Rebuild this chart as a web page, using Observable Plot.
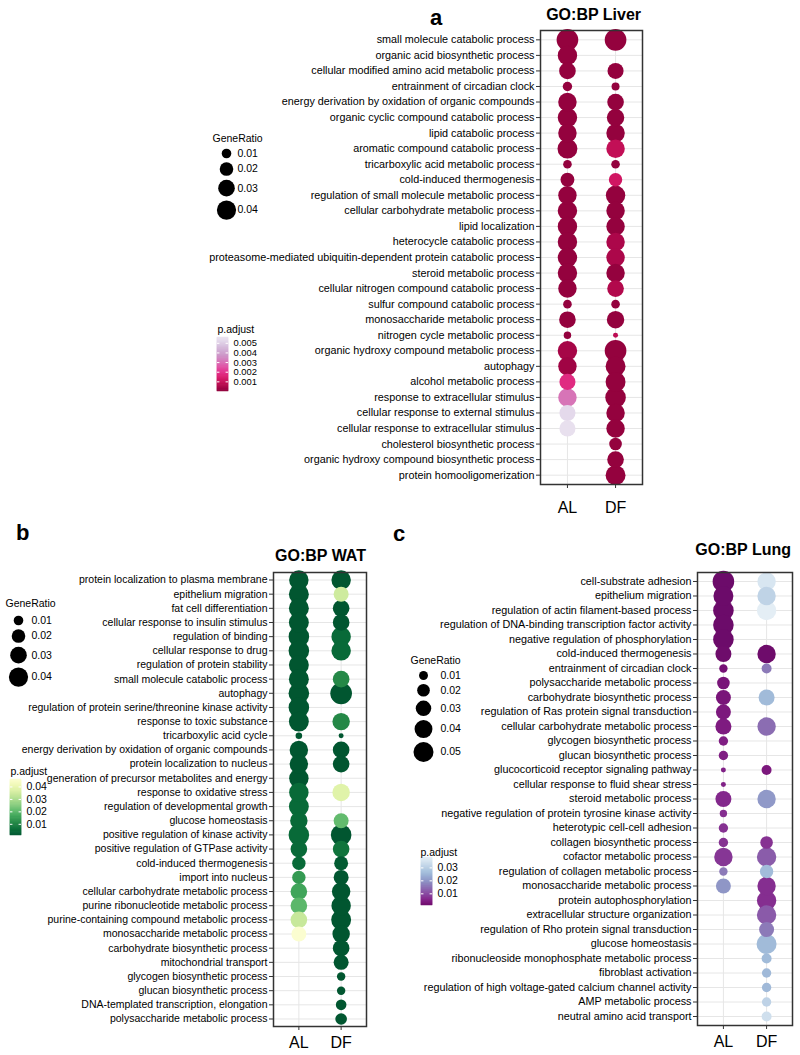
<!DOCTYPE html>
<html><head><meta charset="utf-8">
<script src="https://cdn.jsdelivr.net/npm/d3@7"></script>
<script src="https://cdn.jsdelivr.net/npm/@observablehq/plot@0.6"></script>
<style>
body{margin:0;background:#fff;}
#root{position:relative;width:800px;height:1055px;overflow:hidden;font-family:"Liberation Sans",Arial,Helvetica,sans-serif;}
</style></head><body><div id="root"></div>
<script>
const FONT = '"Liberation Sans", Arial, Helvetica, sans-serif';
const groups = ["AL", "DF"];

// ---------- Panel a: GO:BP Liver ----------
const termsLiver = ["small molecule catabolic process","organic acid biosynthetic process","cellular modified amino acid metabolic process","entrainment of circadian clock","energy derivation by oxidation of organic compounds","organic cyclic compound catabolic process","lipid catabolic process","aromatic compound catabolic process","tricarboxylic acid metabolic process","cold-induced thermogenesis","regulation of small molecule metabolic process","cellular carbohydrate metabolic process","lipid localization","heterocycle catabolic process","proteasome-mediated ubiquitin-dependent protein catabolic process","steroid metabolic process","cellular nitrogen compound catabolic process","sulfur compound catabolic process","monosaccharide metabolic process","nitrogen cycle metabolic process","organic hydroxy compound metabolic process","autophagy","alcohol metabolic process","response to extracellular stimulus","cellular response to external stimulus","cellular response to extracellular stimulus","cholesterol biosynthetic process","organic hydroxy compound biosynthetic process","protein homooligomerization"];
const liverRatioAL = [0.051,0.041,0.030,0.0096,0.037,0.041,0.037,0.043,0.008,0.021,0.037,0.041,0.041,0.041,0.041,0.041,0.037,0.008,0.030,0.006,0.041,0.037,0.028,0.037,0.028,0.028,null,null,null];
const liverRatioDF = [0.051,null,0.028,0.0069,0.030,0.033,0.037,0.037,0.008,0.0195,0.041,0.037,0.037,0.037,0.037,0.037,0.030,0.008,0.033,0.0027,0.051,0.043,0.043,0.046,0.037,0.037,0.0172,0.030,0.043];
const liverPAL = [0.0001,0.0001,0.0001,0.0001,0.0001,0.0001,0.0001,0.0001,0.0001,0.0001,0.0001,0.0001,0.0001,0.0001,0.0001,0.0001,0.0001,0.0001,0.0001,0.0001,0.0004,0.0003,0.0018,0.0031,0.0053,0.0055,null,null,null];
const liverPDF = [0.0001,null,0.0001,0.0001,0.0001,0.0001,0.0001,0.0009,0.0001,0.0012,0.0001,0.0001,0.0001,0.0005,0.0005,0.0001,0.0006,0.0001,0.0001,0.0008,0.0001,0.0001,0.0001,0.0001,0.0001,0.0001,0.0001,0.0001,0.0001];
const liverRatioBreaks = [0.01,0.02,0.03,0.04];
const liverPBreaks = [0.001,0.002,0.003,0.004,0.005];

// ---------- Panel b: GO:BP WAT ----------
const termsWAT = ["protein localization to plasma membrane","epithelium migration","fat cell differentiation","cellular response to insulin stimulus","regulation of binding","cellular response to drug","regulation of protein stability","small molecule catabolic process","autophagy","regulation of protein serine/threonine kinase activity","response to toxic substance","tricarboxylic acid cycle","energy derivation by oxidation of organic compounds","protein localization to nucleus","generation of precursor metabolites and energy","response to oxidative stress","regulation of developmental growth","glucose homeostasis","positive regulation of kinase activity","positive regulation of GTPase activity","cold-induced thermogenesis","import into nucleus","cellular carbohydrate metabolic process","purine ribonucleotide metabolic process","purine-containing compound metabolic process","monosaccharide metabolic process","carbohydrate biosynthetic process","mitochondrial transport","glycogen biosynthetic process","glucan biosynthetic process","DNA-templated transcription, elongation","polysaccharide metabolic process"];
const watRatioAL = [0.041,0.043,0.043,0.043,0.046,0.046,0.043,0.043,0.046,0.046,0.043,0.0047,0.037,0.037,0.041,0.041,0.043,0.033,0.046,0.030,0.0195,0.0195,0.030,0.030,0.030,0.0244,null,null,null,null,null,null];
const watRatioDF = [0.041,0.0244,0.030,0.030,0.041,0.041,null,0.030,0.051,null,0.033,0.0027,0.030,0.030,null,0.033,null,0.0244,0.046,0.030,0.021,0.0244,0.037,0.041,0.043,0.033,0.030,0.0244,0.0077,0.0077,0.0122,0.0146];
const watPAL = [0.001,0.001,0.001,0.001,0.001,0.001,0.001,0.001,0.001,0.001,0.001,0.001,0.001,0.001,0.001,0.005,0.005,0.005,0.005,0.005,0.005,0.0143,0.0163,0.020,0.0337,0.046,null,null,null,null,null,null];
const watPDF = [0.001,0.0348,0.001,0.001,0.005,0.005,null,0.0112,0.001,null,0.0112,0.001,0.001,0.001,null,0.038,null,0.021,0.001,0.0071,0.002,0.001,0.001,0.001,0.001,0.001,0.001,0.001,0.001,0.001,0.001,0.001];
const watRatioBreaks = [0.01,0.02,0.03,0.04];
const watPBreaks = [0.01,0.02,0.03,0.04];

// ---------- Panel c: GO:BP Lung ----------
const termsLung = ["cell-substrate adhesion","epithelium migration","regulation of actin filament-based process","regulation of DNA-binding transcription factor activity","negative regulation of phosphorylation","cold-induced thermogenesis","entrainment of circadian clock","polysaccharide metabolic process","carbohydrate biosynthetic process","regulation of Ras protein signal transduction","cellular carbohydrate metabolic process","glycogen biosynthetic process","glucan biosynthetic process","glucocorticoid receptor signaling pathway","cellular response to fluid shear stress","steroid metabolic process","negative regulation of protein tyrosine kinase activity","heterotypic cell-cell adhesion","collagen biosynthetic process","cofactor metabolic process","regulation of collagen metabolic process","monosaccharide metabolic process","protein autophosphorylation","extracellular structure organization","regulation of Rho protein signal transduction","glucose homeostasis","ribonucleoside monophosphate metabolic process","fibroblast activation","regulation of high voltage-gated calcium channel activity","AMP metabolic process","neutral amino acid transport"];
const lungRatioAL = [0.058,0.05,0.053,0.053,0.053,0.032,0.0088,0.0198,0.0281,0.0281,0.032,0.011,0.011,0.0031,0.0031,0.032,0.0068,0.011,0.011,0.0423,0.0088,0.0281,null,null,null,null,null,null,null,null,null];
const lungRatioDF = [0.0423,0.0423,0.047,null,null,0.0423,0.0125,null,0.032,null,0.0423,null,null,0.0125,null,0.0423,null,null,0.0198,0.047,0.0224,0.0423,0.047,0.047,0.0281,0.05,0.0125,0.011,0.011,0.011,0.0125];
const lungPAL = [0.001,0.001,0.001,0.001,0.001,0.0012,0.0024,0.003,0.003,0.0035,0.004,0.0045,0.0045,0.005,0.005,0.0058,0.0065,0.007,0.007,0.0075,0.0163,0.020,null,null,null,null,null,null,null,null,null];
const lungPDF = [0.0357,0.0312,0.038,null,null,0.0012,0.0163,null,0.0258,null,0.0145,null,null,0.0035,null,0.0205,null,null,0.007,0.0123,0.026,0.0065,0.0065,0.012,0.0163,0.0258,0.0258,0.0255,0.0255,0.031,0.034];
const lungRatioBreaks = [0.01,0.02,0.03,0.04,0.05];
const lungPBreaks = [0.01,0.02,0.03];

const root = document.getElementById("root");
function place(el, left, top) {
  el.style.position = "absolute";
  el.style.left = left + "px";
  el.style.top = top + "px";
  root.appendChild(el);
}
const baseStyle = {fontFamily: FONT, background: "transparent", color: "#000", overflow: "visible"};

function panel(o) {
  const data = [];
  o.terms.forEach((t, i) => {
    if (o.ratioAL[i] != null) data.push({term: t, group: groups[0], ratio: o.ratioAL[i], p: o.pAL[i]});
    if (o.ratioDF[i] != null) data.push({term: t, group: groups[1], ratio: o.ratioDF[i], p: o.pDF[i]});
  });
  const svg = Plot.plot({
    width: o.width, height: o.height,
    marginLeft: o.mL, marginRight: o.mR, marginTop: o.mT, marginBottom: o.mB,
    style: baseStyle,
    x: {type: "point", domain: groups, padding: o.padX, round: false, label: null},
    y: {type: "point", domain: o.terms, padding: o.padY, round: false, label: null},
    r: {type: "sqrt", domain: o.rDomain, range: o.rRange},
    color: {type: "linear", domain: o.cDomain, interpolate: o.interp},
    marks: [
      Plot.gridX({stroke: "#e6e6e6", strokeOpacity: 1}),
      Plot.gridY({stroke: "#e6e6e6", strokeOpacity: 1}),
      Plot.dot(data, {x: "group", y: "term", r: "ratio", fill: "p"}),
      Plot.frame({stroke: "#333", strokeWidth: 1.5, strokeOpacity: 1}),
      Plot.axisY({tickSize: 4, tickPadding: 2, fontSize: o.fontSize, stroke: "#333"}),
      Plot.axisX({tickSize: 4, tickPadding: o.xPad, fontSize: o.xFont, stroke: "#333"})
    ]
  });
  place(svg, o.left, o.top);
}

function sizeLegend(o) {
  const rs = d3.scaleSqrt().domain(o.rDomain).range(o.rRange);
  const items = [];
  let y = o.firstY;
  o.values.forEach((v, i) => { if (i > 0) y += rs(o.values[i - 1]) + rs(v) + 4; items.push({v, y}); });
  const left = o.titleX - 4, top = o.titleY - 10;
  const w = 70, h = y + 16 - top;
  const svg = Plot.plot({
    width: w, height: h, margin: 0, style: baseStyle,
    x: {domain: [0, w], range: [0, w], axis: null},
    y: {domain: [0, h], range: [0, h], axis: null},
    r: {type: "sqrt", domain: o.rDomain, range: o.rRange},
    marks: [
      Plot.text(["GeneRatio"], {x: o.titleX - left, y: o.titleY - top, text: d => d, textAnchor: "start", fontSize: 10.5, fill: "#000"}),
      Plot.dot(items, {x: o.dotX - left, y: d => d.y - top, r: "v", fill: "#000"}),
      Plot.text(items, {x: o.labelX - left, y: d => d.y - top, text: d => d3.format(".2f")(d.v), textAnchor: "start", fontSize: 10.5, fill: "#000"})
    ]
  });
  place(svg, left, top);
}

function colorLegend(o) {
  const left = Math.min(o.titleX, o.barX) - 2, top = o.titleY - 10;
  const w = 70, h = o.barY + o.barH + 8 - top;
  const N = 120, span = o.domain[1] - o.domain[0];
  const slices = d3.range(N).map(i => ({a: o.domain[0] + span * i / N, b: o.domain[0] + span * (i + 1) / N}));
  const x0 = o.barX - left, y0 = o.barY - top;
  const svg = Plot.plot({
    width: w, height: h, marginLeft: x0, marginRight: w - x0 - o.barW, marginTop: y0, marginBottom: h - y0 - o.barH,
    style: baseStyle,
    x: {domain: [0, 1], axis: null},
    y: {domain: o.domain, axis: null},
    color: {type: "linear", domain: o.domain, interpolate: o.interp},
    marks: [
      Plot.rect(slices, {x1: 0, x2: 1, y1: "a", y2: "b", fill: d => (d.a + d.b) / 2, stroke: d => (d.a + d.b) / 2, strokeWidth: 0.5}),
      Plot.ruleY(o.breaks, {x1: 0, x2: 0.22, stroke: "white", strokeWidth: 1}),
      Plot.ruleY(o.breaks, {x1: 0.78, x2: 1, stroke: "white", strokeWidth: 1}),
      Plot.text(o.breaks, {x: 1, y: d => d, dx: o.labelGap, text: d => d3.format(o.fmt)(d), textAnchor: "start", fontSize: o.labelFont, fill: "#000"}),
      Plot.text(["p.adjust"], {frameAnchor: "top-left", dx: o.titleX - o.barX, dy: o.titleY - o.barY, text: d => d, textAnchor: "start", fontSize: 10.5, fill: "#000"})
    ]
  });
  place(svg, left, top);
}

// colour interpolators (reversed schemes: small p.adjust = dark)
const interpLiver = t => d3.interpolatePuRd(0.9 - 0.8 * t);
const interpWAT = t => d3.interpolateYlGn(0.94 - 0.88 * t);
const interpLung = t => d3.interpolateBuPu(0.92 - 0.82 * t);
const cDomLiver = [0, 0.0056], cDomWAT = [0.001, 0.046], cDomLung = [0.001, 0.038];
const rDomLiver = [0, 0.04], rRangeLiver = [0, 9.6];
const rDomWAT = [0, 0.04], rRangeWAT = [0, 9.6];
const rDomLung = [0, 0.05], rRangeLung = [0, 10];

// Panels
panel({terms: termsLiver, ratioAL: liverRatioAL, ratioDF: liverRatioDF, pAL: liverPAL, pDF: liverPDF,
  rDomain: rDomLiver, rRange: rRangeLiver, cDomain: cDomLiver, interp: interpLiver,
  left: 200, top: 0, width: 450, height: 525, mL: 340, mR: 8, mT: 30, mB: 41, padX: 0.56, padY: 0.6,
  fontSize: 10.8, xFont: 16, xPad: 13});
panel({terms: termsWAT, ratioAL: watRatioAL, ratioDF: watRatioDF, pAL: watPAL, pDF: watPDF,
  rDomain: rDomWAT, rRange: rRangeWAT, cDomain: cDomWAT, interp: interpWAT,
  left: 0, top: 560, width: 370, height: 495, mL: 273, mR: 4, mT: 12, mB: 29, padX: 0.6, padY: 0.53,
  fontSize: 10.5, xFont: 16, xPad: 6});
panel({terms: termsLung, ratioAL: lungRatioAL, ratioDF: lungRatioDF, pAL: lungPAL, pDF: lungPDF,
  rDomain: rDomLung, rRange: rRangeLung, cDomain: cDomLung, interp: interpLung,
  left: 380, top: 560, width: 416, height: 495, mL: 317, mR: 4, mT: 12, mB: 30, padX: 0.6, padY: 0.62,
  fontSize: 10.8, xFont: 16, xPad: 6});

// Legends
sizeLegend({values: liverRatioBreaks, rDomain: rDomLiver, rRange: rRangeLiver, titleX: 212, titleY: 138, dotX: 226, firstY: 153, labelX: 237});
colorLegend({domain: cDomLiver, interp: interpLiver, breaks: liverPBreaks, fmt: ".3f", titleX: 217, titleY: 325, barX: 217, barY: 337, barW: 11, barH: 54, labelGap: 5, labelFont: 9.4});
sizeLegend({values: watRatioBreaks, rDomain: rDomWAT, rRange: rRangeWAT, titleX: 5, titleY: 603, dotX: 18, firstY: 620, labelX: 31});
colorLegend({domain: cDomWAT, interp: interpWAT, breaks: watPBreaks, fmt: ".2f", titleX: 10, titleY: 767, barX: 10, barY: 779, barW: 11, barH: 56, labelGap: 5, labelFont: 10.5});
sizeLegend({values: lungRatioBreaks, rDomain: rDomLung, rRange: rRangeLung, titleX: 410, titleY: 660, dotX: 423, firstY: 675, labelX: 440});
colorLegend({domain: cDomLung, interp: interpLung, breaks: lungPBreaks, fmt: ".2f", titleX: 420, titleY: 848, barX: 421, barY: 857, barW: 11, barH: 48, labelGap: 5, labelFont: 10.5});

// Titles and panel letters
const overlay = d3.create("svg").attr("width", 800).attr("height", 1055)
  .style("position", "absolute").style("left", "0px").style("top", "0px")
  .style("font-family", FONT).style("pointer-events", "none");
const titles = [
  {text: "GO:BP Liver", x: 641, y: 20, anchor: "end", size: 16},
  {text: "GO:BP WAT", x: 366, y: 561, anchor: "end", size: 16},
  {text: "GO:BP Lung", x: 791, y: 555, anchor: "end", size: 16},
  {text: "a", x: 430, y: 25, anchor: "start", size: 22},
  {text: "b", x: 16, y: 540, anchor: "start", size: 22},
  {text: "c", x: 393, y: 541, anchor: "start", size: 22}
];
overlay.selectAll("text").data(titles).join("text")
  .attr("x", d => d.x).attr("y", d => d.y).attr("text-anchor", d => d.anchor)
  .attr("font-size", d => d.size).attr("font-weight", "bold").attr("fill", "#000")
  .text(d => d.text);
root.appendChild(overlay.node());
</script></body></html>
